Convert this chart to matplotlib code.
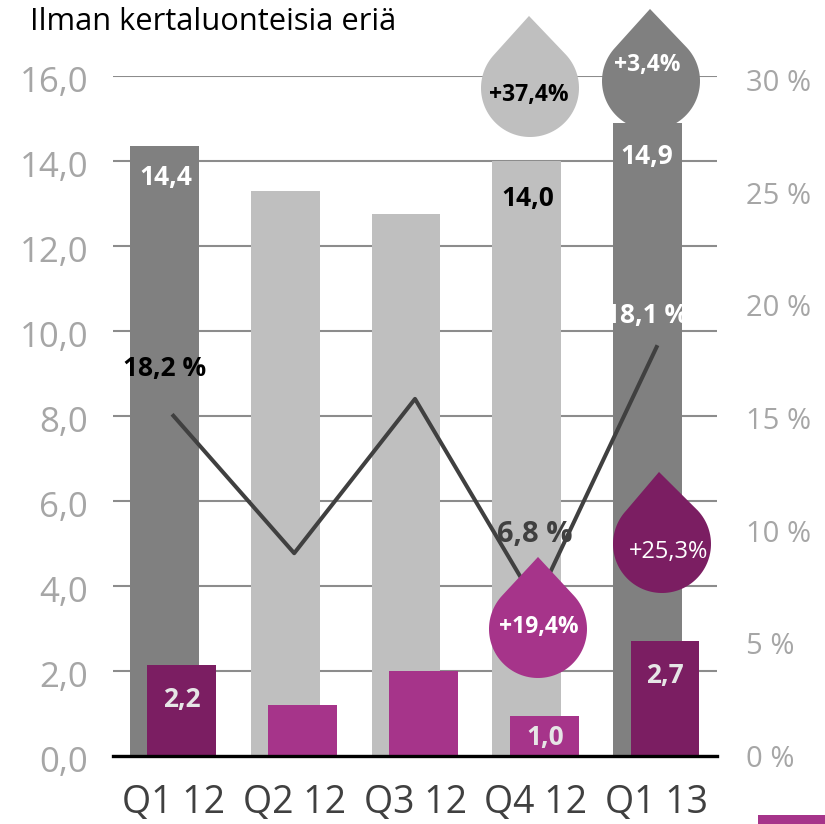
import matplotlib.pyplot as plt
import numpy as np
from matplotlib.patches import Polygon, Rectangle
from matplotlib.transforms import Affine2D

plt.rcParams['font.family'] = ['Open Sans', 'DejaVu Sans']

quarters = ["Q1 12", "Q2 12", "Q3 12", "Q4 12", "Q1 13"]
sales = [14.35, 13.3, 12.75, 14.0, 14.9]
profit = [2.15, 1.2, 2.0, 0.95, 2.7]
margin = [15.1, 9.0, 15.85, 6.8, 18.15]

sales_colors = ["#808080", "#bfbfbf", "#bfbfbf", "#bfbfbf", "#808080"]
profit_colors = ["#7b1e62", "#a6348a", "#a6348a", "#a6348a", "#7b1e62"]

left_ticks = [0, 2, 4, 6, 8, 10, 12, 14, 16]
left_labels = ["0,0", "2,0", "4,0", "6,0", "8,0", "10,0", "12,0", "14,0", "16,0"]
right_ticks = [0, 5, 10, 15, 20, 25, 30]
right_labels = ["0 %", "5 %", "10 %", "15 %", "20 %", "25 %", "30 %"]

W, H = 825, 824
fig = plt.figure(figsize=(W / 100, H / 100), dpi=100)
ax = fig.add_axes([113 / W, 1 - 756 / H, 604 / W, 680 / H])

# everything that is placed by eye goes through this, in image pixels
px = Affine2D().scale(1, -1).translate(0, H).scale(1 / W, 1 / H) + fig.transFigure

x = np.arange(5)
ax.bar(x - 0.075, sales, width=0.57, color=sales_colors, zorder=2)
ax.bar(x + 0.07, profit, width=0.57, color=profit_colors, zorder=3)

ax.set_xlim(-0.5, 4.5)
ax.set_ylim(0, 16)
ax.set_xticks(x, quarters, fontsize=27, color="#404040")
ax.set_yticks(left_ticks, left_labels, fontsize=25, color="#a6a6a6")
ax.tick_params(length=0)
ax.tick_params(axis="y", pad=18)
ax.tick_params(axis="x", pad=20.5)
for t in ax.get_yticklabels():
    t.set_transform(t.get_transform() + Affine2D().translate(0, -3))
ax.grid(axis="y", color="#8c8c8c", lw=1.5, zorder=1)
ax.set_axisbelow(True)
ax.spines[['left', 'right', 'top']].set_visible(False)
ax.spines['bottom'].set_color("black")
ax.spines['bottom'].set_linewidth(2.4)
ax.spines['bottom'].set_zorder(5)

ax2 = ax.twinx()
ax2.set_ylim(0.04, 30.18)
ax2.plot(x, margin, color="#404040", lw=2.9, zorder=2)
ax2.set_yticks(right_ticks, right_labels, fontsize=21, color="#a6a6a6")
ax2.tick_params(length=0, pad=21)
ax2.spines[['left', 'right', 'top', 'bottom']].set_visible(False)


def drop(cx, cy, tip_x, r, color):
    t = np.radians(np.linspace(-43, 223, 90))
    pts = [(tip_x, cy - r * 1.47)]
    pts += [(cx + r * np.cos(a), cy + r * np.sin(a)) for a in t]
    ax2.add_patch(Polygon(pts, closed=True, color=color, lw=0,
                          transform=px, clip_on=False, zorder=4))


drop(530, 88, 529, 49, "#bfbfbf")
drop(651, 81, 650, 49, "#808080")
drop(538, 629, 538, 49, "#a6348a")
drop(662, 544, 659, 49, "#7b1e62")


def label(px_x, px_y, s, color, size=19, weight="bold"):
    ax2.text(px_x, px_y, s, color=color, fontsize=size, fontweight=weight,
             ha="center", va="center", transform=px, clip_on=False, zorder=6)


label(166, 177, "14,4", "white")
label(647, 156, "14,9", "white")
label(528, 198, "14,0", "black")
label(182, 699, "2,2", "#e6e6e6")
label(665, 676, "2,7", "#e6e6e6")
label(545, 737, "1,0", "#e6e6e6")
label(165, 368, "18,2 %", "black")
label(647, 315, "18,1 %", "white")
label(535, 534, "6,8 %", "#404040", size=21)
label(529, 95, "+37,4%", "black", size=16.5)
label(647, 65, "+3,4%", "white", size=16.5)
label(539, 627, "+19,4%", "white", size=16.5)
label(669, 552, "+25,3%", "white", size=17, weight="normal")

fig.text(30 / W, 1 - 22 / H, "Ilman kertaluonteisia eriä", fontsize=22.2,
         color="black", va="center")
fig.add_artist(Rectangle((758, 815), 67, 9, color="#a6348a", lw=0, transform=px))

fig.savefig("out.png", dpi=100)
